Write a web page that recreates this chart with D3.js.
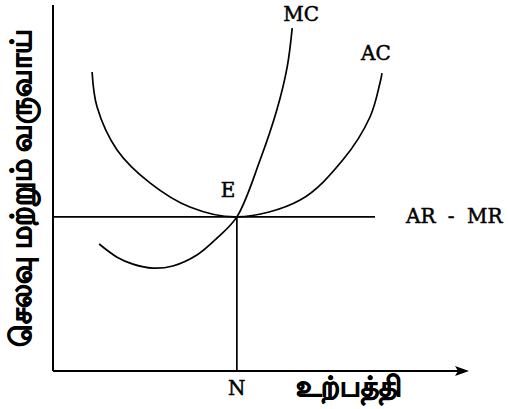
<!DOCTYPE html>
<html>
<head>
<meta charset="utf-8">
<script src="https://cdn.jsdelivr.net/npm/d3@7"></script>
<style>
  body { margin: 0; background: #fff; }
  .curve { fill: none; stroke: #000; stroke-width: 1.7; }
  .axis-line { stroke: #000; stroke-width: 2; }
  .lbl { font-family: "DejaVu Serif", serif; font-size: 20px; fill: #000; stroke: #000; stroke-width: 0.5; }
  .tamil { font-weight: bold; fill: #000; stroke: #000; stroke-width: 0.8; }
</style>
</head>
<body>
<script>
// data (x = output, y = cost / revenue, arbitrary units)
var acPoints = [[0.94, 8.17], [1.06, 7.21], [1.54, 6.04], [2.33, 5.14], [3.29, 4.48],
                [4.42, 4.21], [5.94, 4.67], [6.97, 5.77], [7.62, 6.94], [7.86, 7.87], [7.91, 8.14]];
var mcPoints = [[1.11, 3.47], [1.54, 3.11], [1.92, 2.92], [2.40, 2.81], [2.88, 2.87],
                [3.46, 3.17], [3.94, 3.63], [4.42, 4.21], [4.98, 5.77], [5.38, 7.13],
                [5.63, 8.31], [5.75, 9.37]];
var arMr = [[0, 4.21], [7.74, 4.21]];
var eq = {x: 4.42, y: 4.21};
var yLabel = "செலவு மற்றும் வருவாய்";
var xLabel = "உற்பத்தி";

var width = 508, height = 409;

var x = d3.scaleLinear().domain([0, 10]).range([53, 469]);
var y = d3.scaleLinear().domain([0, 10]).range([371, 5]);

var svg = d3.select("body").append("svg")
  .attr("width", width)
  .attr("height", height);

var line = d3.line()
  .x(function(d) { return x(d[0]); })
  .y(function(d) { return y(d[1]); });

var smooth = d3.line()
  .curve(d3.curveCatmullRom.alpha(0.5))
  .x(function(d) { return x(d[0]); })
  .y(function(d) { return y(d[1]); });

// axes
svg.append("line").attr("class", "axis-line")
  .attr("x1", x(0)).attr("y1", y(10)).attr("x2", x(0)).attr("y2", y(0));
svg.append("line").attr("class", "axis-line")
  .attr("x1", x(0)).attr("y1", y(0)).attr("x2", x(10) - 8).attr("y2", y(0));
svg.append("path")
  .attr("d", "M" + x(10) + "," + y(0) + "l-14,-5l3,5l-3,5z")
  .attr("fill", "#000");

// AR - MR line and the drop line at E
svg.append("path").datum(arMr).attr("class", "curve").attr("stroke-width", 1.9).attr("d", line);
svg.append("path").datum([[eq.x, eq.y], [eq.x, 0]]).attr("class", "curve").attr("d", line);

// cost curves
svg.append("path").datum(acPoints).attr("class", "curve").attr("d", smooth);
svg.append("path").datum(mcPoints).attr("class", "curve").attr("d", smooth);

// labels
svg.append("text").attr("class", "lbl").attr("x", x(5.75) - 9).attr("y", 21).text("MC");
svg.append("text").attr("class", "lbl").attr("x", x(7.91) - 21).attr("y", 60).text("AC");
svg.append("text").attr("class", "lbl").attr("x", x(eq.x) - 16).attr("y", 197).text("E");
svg.append("text").attr("class", "lbl").attr("x", 406).attr("y", 223)
  .attr("word-spacing", "6px").text("AR - MR");
svg.append("text").attr("class", "lbl").attr("x", x(eq.x)).attr("y", 395)
  .attr("text-anchor", "middle").text("N");

svg.append("text").attr("class", "tamil")
  .attr("x", 349).attr("y", 396)
  .attr("text-anchor", "middle")
  .style("font-size", "28px")
  .text(xLabel);

svg.append("text").attr("class", "tamil")
  .attr("transform", "translate(31,188) rotate(-90)")
  .attr("text-anchor", "middle")
  .style("font-size", "29px")
  .text(yLabel);
</script>
</body>
</html>
